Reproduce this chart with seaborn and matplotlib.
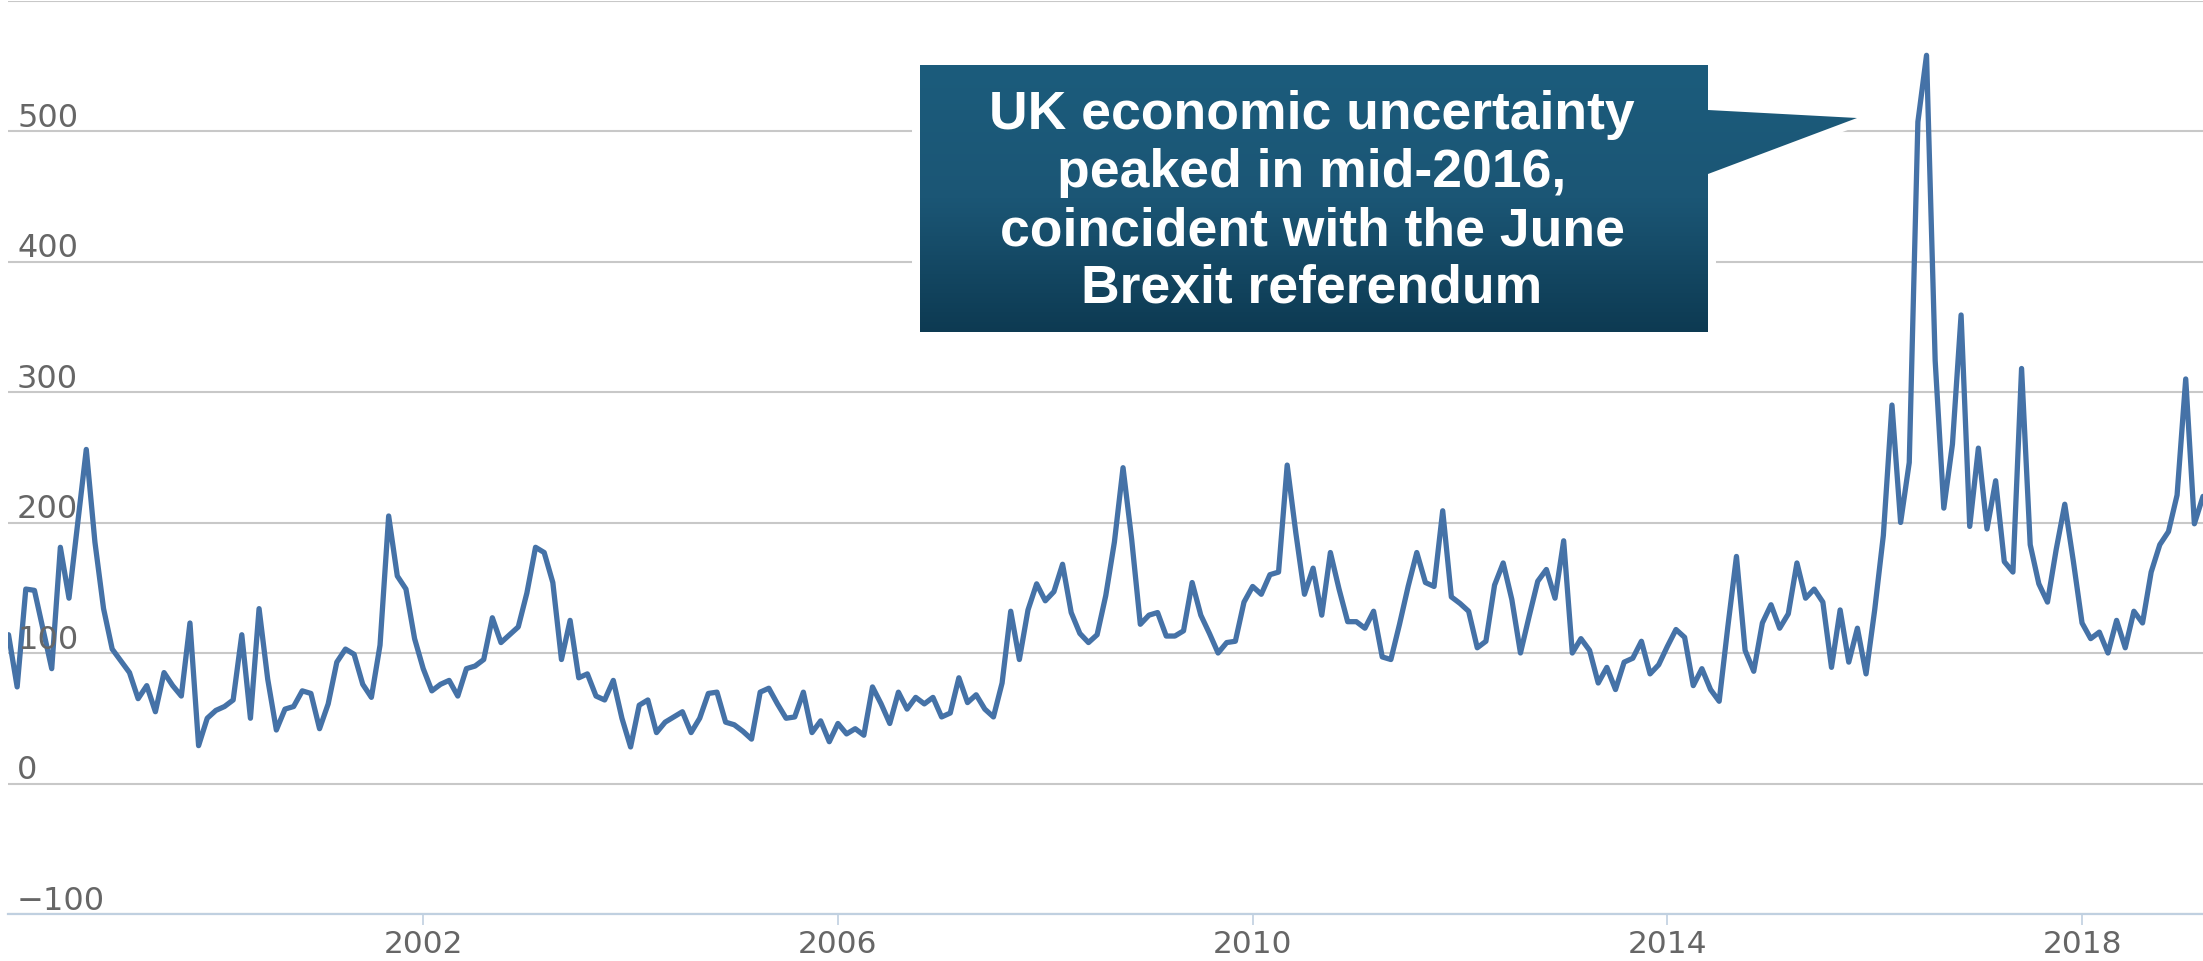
import numpy as np
import pandas as pd
import matplotlib
matplotlib.use("Agg")
import matplotlib.pyplot as plt
import seaborn as sns
from matplotlib.patches import Polygon
from matplotlib.colors import LinearSegmentedColormap

# Monthly UK economic policy uncertainty index, January 1998 onwards
start_year = 1998
epu_1998 = [114, 74, 149, 148, 118, 88, 181, 142, 199, 256, 185, 134]
epu_1999 = [103, 94, 85, 65, 75, 55, 85, 75, 67, 123, 29, 50]
epu_2000 = [56, 59, 64, 114, 50, 134, 80, 41, 57, 59, 71, 69]
epu_2001 = [42, 61, 93, 103, 99, 76, 66, 106, 205, 159, 149, 111]
epu_2002 = [88, 71, 76, 79, 67, 88, 90, 95, 127, 108, 114, 120]
epu_2003 = [146, 181, 177, 154, 95, 125, 81, 84, 67, 64, 79, 50]
epu_2004 = [28, 60, 64, 39, 47, 51, 55, 39, 50, 69, 70, 47]
epu_2005 = [45, 40, 34, 70, 73, 61, 50, 51, 70, 39, 48, 32]
epu_2006 = [46, 38, 42, 37, 74, 61, 46, 70, 57, 66, 61, 66]
epu_2007 = [51, 54, 81, 62, 68, 57, 51, 77, 132, 95, 133, 153]
epu_2008 = [140, 147, 168, 131, 115, 108, 114, 144, 185, 242, 187, 122]
epu_2009 = [129, 131, 113, 113, 117, 154, 129, 115, 100, 108, 109, 139]
epu_2010 = [151, 145, 160, 162, 244, 192, 145, 165, 129, 177, 149, 124]
epu_2011 = [124, 119, 132, 97, 95, 122, 151, 177, 154, 151, 209, 143]
epu_2012 = [138, 132, 104, 109, 152, 169, 141, 100, 128, 155, 164, 142]
epu_2013 = [186, 100, 111, 102, 77, 89, 72, 93, 96, 109, 84, 91]
epu_2014 = [105, 118, 112, 75, 88, 72, 63, 120, 174, 102, 86, 123]
epu_2015 = [137, 119, 130, 169, 142, 149, 139, 89, 133, 93, 119, 84]
epu_2016 = [133, 190, 290, 200, 246, 507, 558, 324, 211, 260, 359, 197]
epu_2017 = [257, 195, 232, 170, 162, 318, 183, 153, 139, 179, 214, 170]
epu_2018 = [123, 111, 116, 100, 125, 104, 132, 123, 162, 183, 193, 221]
epu_2019 = [310, 199, 220]

y_grid_values = [-100, 0, 100, 200, 300, 400, 500, 600]
y_label_values = [-100, 0, 100, 200, 300, 400, 500]
y_label_texts = ["\u2212100", "0", "100", "200", "300", "400", "500"]
x_tick_years = [2002, 2006, 2010, 2014, 2018]
x_tick_texts = ["2002", "2006", "2010", "2014", "2018"]

callout_lines = [
    "UK economic uncertainty",
    "peaked in mid-2016,",
    "coincident with the June",
    "Brexit referendum",
]

values = np.concatenate([
    epu_1998, epu_1999, epu_2000, epu_2001, epu_2002, epu_2003, epu_2004,
    epu_2005, epu_2006, epu_2007, epu_2008, epu_2009, epu_2010, epu_2011,
    epu_2012, epu_2013, epu_2014, epu_2015, epu_2016, epu_2017, epu_2018,
    epu_2019,
]).astype(float)
month_index = np.arange(len(values))
df = pd.DataFrame({"year": start_year + month_index / 12.0, "epu": values})

# ---- figure layout (pixel based) ----
W, H, DPI = 2203, 962, 100
sns.set_theme(style="white")
plt.rcParams["font.family"] = ["DejaVu Sans"]

fig = plt.figure(figsize=(W / DPI, H / DPI), dpi=DPI)
fig.patch.set_facecolor("white")

left_px, bottom_px, top_px = 8, 915, 1.5
ax = fig.add_axes([left_px / W, (H - bottom_px) / H,
                   1 - left_px / W, (bottom_px - top_px) / H])
ax.set_facecolor("white")

sns.lineplot(data=df, x="year", y="epu", ax=ax, color="#4572A7",
             linewidth=3.8, solid_joinstyle="round", solid_capstyle="round",
             zorder=3)

ax.set_xlim(start_year - 0.06 / 12, start_year + 254.0 / 12)
ax.set_ylim(-100, 600)
ax.set_xlabel("")
ax.set_ylabel("")

# horizontal grid
ax.set_yticks(y_grid_values)
ax.set_yticklabels([])
ax.tick_params(axis="y", left=False, length=0)
ax.grid(axis="y", color="#C8C8C8", linewidth=1.5, zorder=1)
ax.grid(axis="x", visible=False)

# x axis
ax.set_xticks(x_tick_years)
ax.set_xticklabels(x_tick_texts)
ax.tick_params(axis="x", bottom=True, direction="out", length=8, width=1.2,
               color="#C0D0E0", labelsize=22.5, labelcolor="#666666", pad=3)
for side in ["left", "right", "top"]:
    ax.spines[side].set_visible(False)
ax.spines["bottom"].set_color("#C0D0E0")
ax.spines["bottom"].set_linewidth(1.6)
ax.spines["bottom"].set_zorder(2.5)

# y labels sitting just above each gridline
for v, lab in zip(y_label_values, y_label_texts):
    ax.annotate(lab, xy=(0, v), xycoords=("axes fraction", "data"),
                xytext=(6.5, 3.6), textcoords="offset points",
                ha="left", va="baseline", fontsize=23, color="#666666",
                zorder=4)

# ---- callout box ----
ov = fig.add_axes([0, 0, 1, 1], zorder=10)
ov.set_xlim(0, W)
ov.set_ylim(H, 0)
ov.axis("off")
ov.patch.set_alpha(0)

box_l, box_r, box_t, box_b = 920, 1708, 66, 333
tip = (1857, 119)
shape = [(box_l, box_t), (box_r, box_t), (box_r, 111), tip, (box_r, 175),
         (box_r, box_b), (box_l, box_b)]

halo = Polygon(shape, closed=True, facecolor="white", edgecolor="white",
               linewidth=11.5, joinstyle="round", zorder=1)
ov.add_patch(halo)

clip = Polygon(shape, closed=True, facecolor="none", edgecolor="none",
               transform=ov.transData)
ov.add_patch(clip)

box_cmap = LinearSegmentedColormap.from_list(
    "callout", ["#1C5C7C", "#1B5675", "#0D3A52"])
grad = np.linspace(0, 1, 256).reshape(-1, 1)
im = ov.imshow(grad, extent=(box_l, tip[0], box_b, box_t), cmap=box_cmap,
               aspect="auto", interpolation="bicubic", zorder=2)
im.set_clip_path(clip)

baselines = [129, 187, 245, 303]
for line, yb in zip(callout_lines, baselines):
    ov.text(1312, yb, line, ha="center", va="baseline", color="white",
            fontsize=38.5, fontweight="bold", family="Liberation Sans", zorder=3)

fig.savefig("out.png", dpi=DPI, facecolor="white")
